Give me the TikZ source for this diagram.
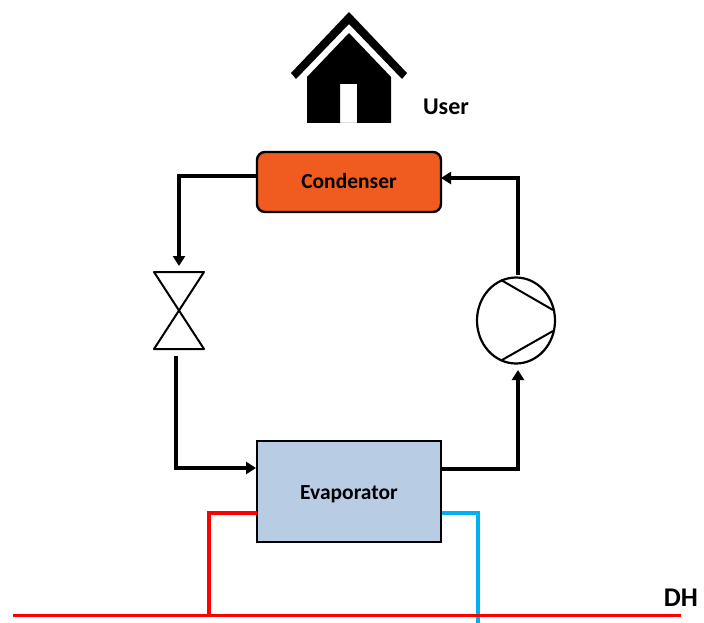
\documentclass[tikz,border=0pt]{standalone}
\usepackage{fontspec}
\setmainfont{Carlito}
\usetikzlibrary{arrows.meta,shapes.geometric}
\definecolor{condfill}{RGB}{240,91,32}
\definecolor{evapfill}{RGB}{184,204,228}
\definecolor{hotred}{RGB}{255,0,0}
\definecolor{coldblue}{RGB}{0,176,240}
\tikzset{
  unit/.style={draw=black,line width=2.4pt,inner sep=0pt,font=\fontsize{21.5}{24}\selectfont\bfseries},
  flow/.style={draw=black,line width=3.4pt,-{Triangle[length=10pt,width=12pt]},line join=miter},
  sym/.style={draw=black,line width=2pt,line join=round},
  pipe/.style={line width=3.4pt,line join=miter},
  lab/.style={inner sep=0pt,font=\fontsize{24}{28}\selectfont\bfseries}
}
\begin{document}
\begin{tikzpicture}[x=1pt,y=-1pt]
\useasboundingbox (0,0) rectangle (704,623);
% house
\fill[black] (349,12) -- (407,73) -- (402,79) -- (349,24) -- (296,79) -- (291,73) -- cycle;
\fill[black,even odd rule] (349,33) -- (391,77) -- (391,123) -- (307,123) -- (307,77) -- cycle
  (340,84) rectangle (357,123);
\node[lab] (user) at (446,107) {User};
% main units
\node[unit,fill=condfill,rounded corners=8pt,minimum width=184pt,minimum height=60pt] (cond) at (349,182) {\raisebox{-6.5pt}[0pt][0pt]{Condenser}};
\node[unit,fill=evapfill,minimum width=184pt,minimum height=101pt] (evap) at (349,491.5) {\raisebox{-7.5pt}[0pt][0pt]{Evaporator}};
% pump
\node[draw=black,line width=2.2pt,ellipse,minimum width=78pt,minimum height=86pt,inner sep=0pt] (pump) at (516,320.5) {};
\coordinate (pa) at (501,280); \coordinate (pb) at (553,310);
\coordinate (pc) at (502,360); \coordinate (pd) at (553,331);
\draw[sym] (pa) -- (pb);
\draw[sym] (pc) -- (pd);
% valve
\coordinate (vtl) at (154,272); \coordinate (vtr) at (204,272);
\coordinate (vbl) at (154,349); \coordinate (vbr) at (204,349);
\draw[sym] (vtl) -- (vtr) -- (vbl) -- (vbr) -- (vtl) -- cycle;
% connector ends
\coordinate (condL) at (257,176);
\coordinate (condLc) at (179,176);
\coordinate (vin) at (179,266);
\coordinate (vout) at (176,356);
\coordinate (vc) at (176,468);
\coordinate (evL) at (256,468);
\coordinate (evR) at (441,469);
\coordinate (evRc) at (518,469);
\coordinate (pin) at (518,370);
\coordinate (pout) at (518,275);
\coordinate (poutc) at (518,178);
\coordinate (condR) at (441,178);
\draw[flow] (condL) -- (condLc) -- (vin);
\draw[flow] (vout) -- (vc) -- (evL);
\draw[flow] (evR) -- (evRc) -- (pin);
\draw[flow] (pout) -- (poutc) -- (condR);
% district heating
\coordinate (dhL) at (13,615.5);
\coordinate (dhR) at (681,615.5);
\coordinate (rA) at (257,513);
\coordinate (rB) at (209,513);
\coordinate (rC) at (209,617);
\coordinate (bA) at (442,513);
\coordinate (bB) at (478,513);
\coordinate (bC) at (478,623);
\draw[pipe,coldblue] (bA) -- (bB) -- (bC);
\draw[pipe,hotred] (rA) -- (rB) -- (rC);
\draw[pipe,hotred] (dhL) -- (dhR);
\node[lab,font=\fontsize{27}{30}\selectfont\bfseries] (dh) at (681,598) {DH};
\end{tikzpicture}
\end{document}
